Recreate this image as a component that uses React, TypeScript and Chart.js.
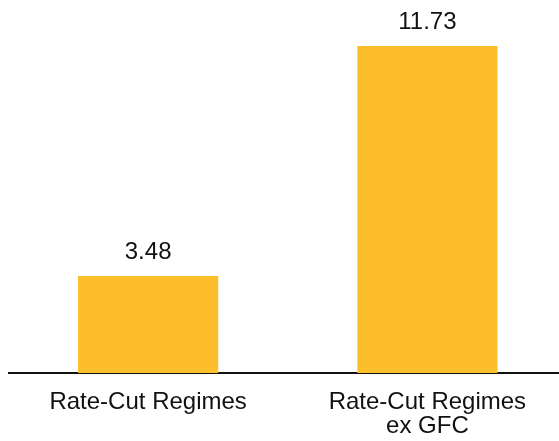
import React, { useEffect, useRef } from "react";
import { Chart, registerables } from "chart.js";

Chart.register(...registerables);

const categories: (string | string[])[] = ["Rate-Cut Regimes", ["Rate-Cut Regimes", "ex GFC"]];
const values: number[] = [3.48, 11.73];
const barColor = "#FCBF2B";

const valueLabels = {
  id: "valueLabels",
  afterDatasetsDraw(chart: any) {
    const ctx = chart.ctx;
    const meta = chart.getDatasetMeta(0);
    ctx.save();
    ctx.font = "24px 'Liberation Sans', Arial, sans-serif";
    ctx.fillStyle = "#111";
    ctx.textAlign = "center";
    ctx.textBaseline = "alphabetic";
    meta.data.forEach((bar: any, i: number) => {
      ctx.fillText(values[i].toFixed(2), bar.x, bar.y - 17);
    });
    ctx.restore();
  },
};

export default function App() {
  const ref = useRef<HTMLCanvasElement>(null);
  useEffect(() => {
    document.body.style.margin = "0";
    const chart = new Chart(ref.current!, {
      type: "bar",
      data: {
        labels: categories,
        datasets: [
          {
            data: values,
            backgroundColor: barColor,
            categoryPercentage: 1,
            barPercentage: 0.502,
          },
        ],
      },
      options: {
        responsive: false,
        animation: false,
        layout: { padding: { left: 8.5, right: 0, top: 0, bottom: 0 } },
        plugins: { legend: { display: false }, tooltip: { enabled: false } },
        scales: {
          x: {
            grid: { display: false, drawTicks: false },
            border: { display: true, color: "#111", width: 2 },
            ticks: {
              color: "#111",
              padding: 17,
              maxRotation: 0,
              autoSkip: false,
              font: { family: "'Liberation Sans', Arial, sans-serif", size: 24, lineHeight: 1.0 },
            },
            afterFit: (s: any) => {
              s.height = 68;
            },
          },
          y: {
            display: false,
            min: 0,
            max: 13.38,
          },
        },
      },
      plugins: [valueLabels],
    });
    return () => chart.destroy();
  }, []);
  return (
    <div style={{ position: "fixed", left: 0, top: 0, width: 559, height: 441, overflow: "hidden", background: "#fff" }}>
      <canvas ref={ref} width={567} height={441} style={{ width: 567, height: 441, display: "block" }} />
    </div>
  );
}
